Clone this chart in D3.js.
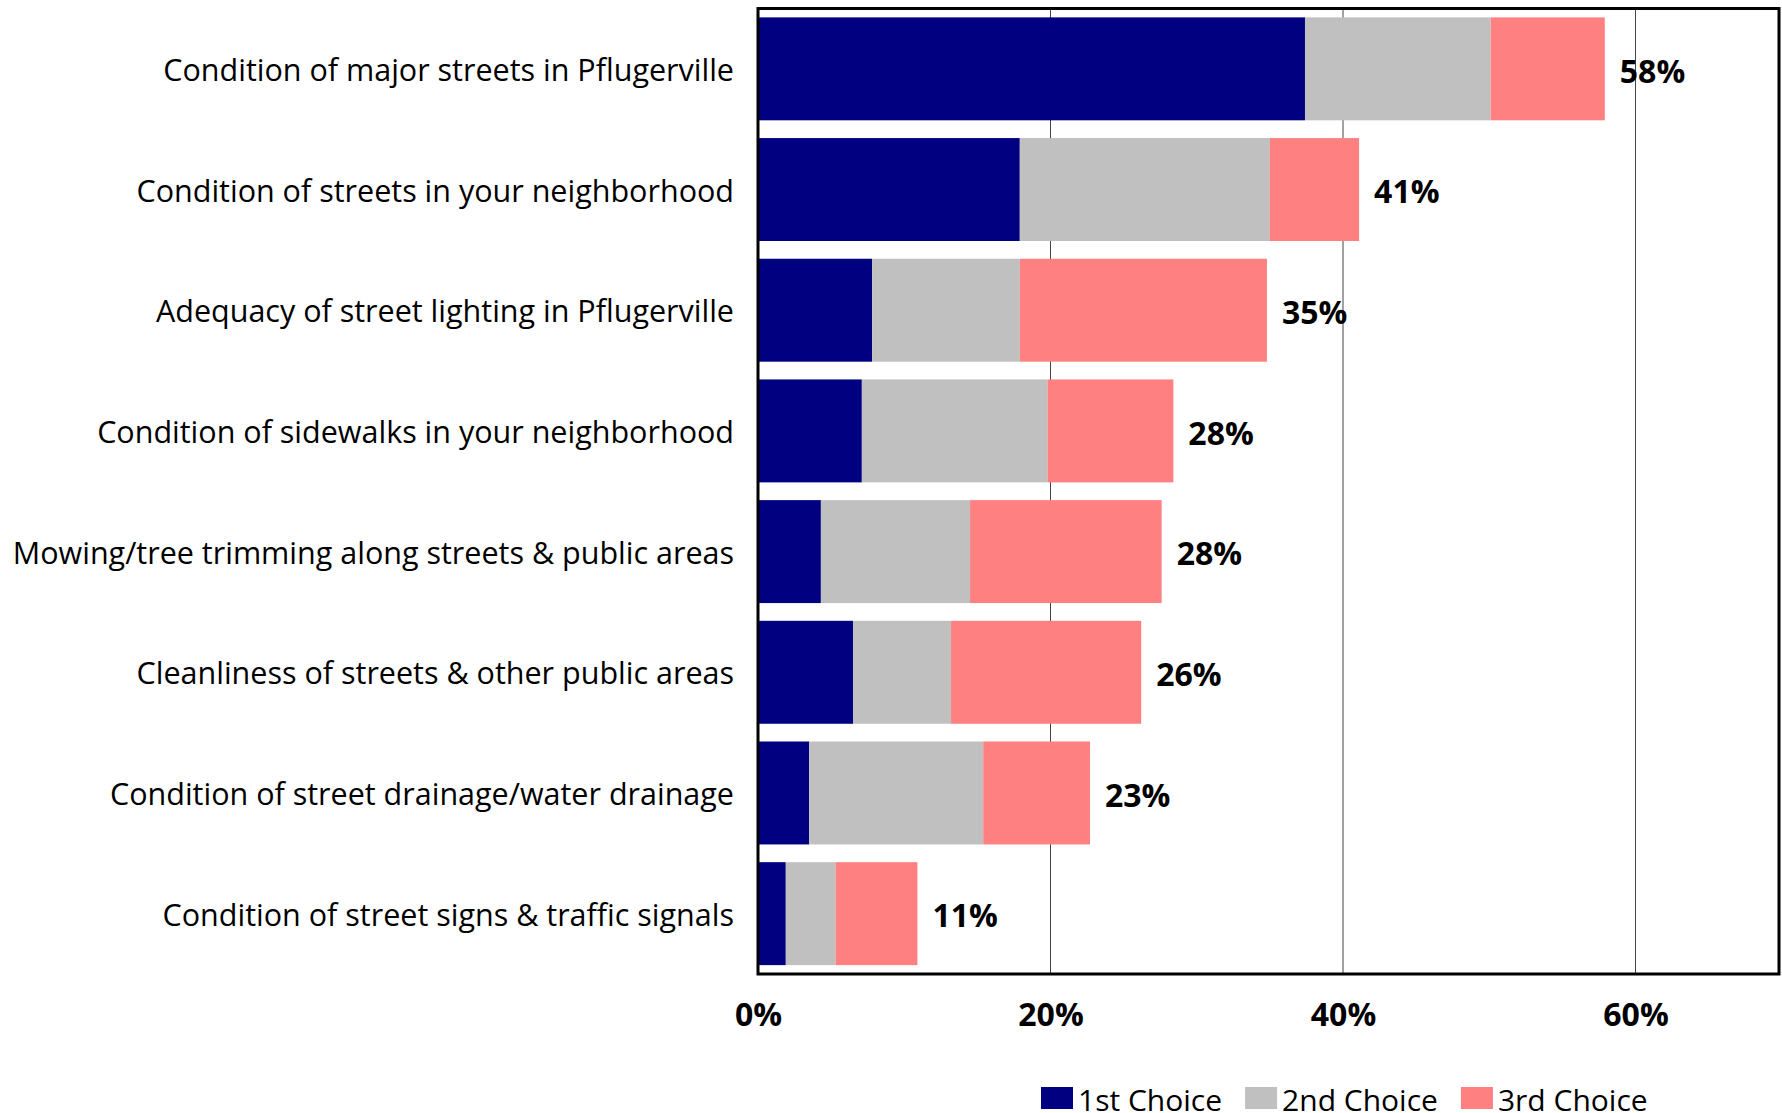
<!DOCTYPE html>
<html>
<head>
<meta charset="utf-8">
<script src="https://cdn.jsdelivr.net/npm/d3@7"></script>
<style>
  html, body { margin: 0; padding: 0; background: #ffffff; }
  svg { display: block; }
  text { font-family: "Open Sans", Lato, sans-serif; fill: #000; }
</style>
</head>
<body>
<svg id="chart" width="1782" height="1113"></svg>
<script>
// Survey items, top to bottom
const categories = [
  "Condition of major streets in Pflugerville",
  "Condition of streets in your neighborhood",
  "Adequacy of street lighting in Pflugerville",
  "Condition of sidewalks in your neighborhood",
  "Mowing/tree trimming along streets & public areas",
  "Cleanliness of streets & other public areas",
  "Condition of street drainage/water drainage",
  "Condition of street signs & traffic signals"
];

// Share of respondents (%) choosing each item as 1st, 2nd and 3rd priority
const firstChoice  = [37.4, 17.9,  7.8,  7.1,  4.3,  6.5,  3.5, 1.9];
const secondChoice = [12.7, 17.1, 10.1, 12.7, 10.2,  6.7, 11.9, 3.4];
const thirdChoice  = [ 7.8,  6.1, 16.9,  8.6, 13.1, 13.0,  7.3, 5.6];

const seriesNames = ["1st Choice", "2nd Choice", "3rd Choice"];
const seriesColors = ["#000080", "#C0C0C0", "#FF8080"];
const tickValues = [0, 20, 40, 60];

const svg = d3.select("#chart");

// Plot frame
const plot = { left: 758, right: 1779, top: 8.5, bottom: 974 };

const x = d3.scaleLinear().domain([0, 60]).range([plot.left, 1635.5]);
const y = d3.scaleBand()
  .domain(categories)
  .range([plot.top, plot.bottom])
  .paddingInner(0.147)
  .paddingOuter(0.0735);

const rows = categories.map((c, i) => ({
  category: c,
  "1st Choice": firstChoice[i],
  "2nd Choice": secondChoice[i],
  "3rd Choice": thirdChoice[i]
}));
const stacked = d3.stack().keys(seriesNames)(rows);

// Vertical gridlines
svg.append("g")
  .selectAll("line")
  .data(tickValues.filter(d => d > 0))
  .join("line")
  .attr("x1", d => x(d)).attr("x2", d => x(d))
  .attr("y1", plot.top).attr("y2", plot.bottom)
  .attr("stroke", "#444")
  .attr("stroke-width", 1);

// Stacked bars
svg.append("g")
  .selectAll("g")
  .data(stacked)
  .join("g")
  .attr("fill", (d, i) => seriesColors[i])
  .selectAll("rect")
  .data(d => d)
  .join("rect")
  .attr("x", d => x(d[0]))
  .attr("width", d => x(d[1]) - x(d[0]))
  .attr("y", d => y(d.data.category))
  .attr("height", y.bandwidth());

// Totals at the end of each bar
const totals = categories.map((c, i) => firstChoice[i] + secondChoice[i] + thirdChoice[i]);
svg.append("g")
  .selectAll("text")
  .data(categories)
  .join("text")
  .attr("x", (d, i) => x(totals[i]) + 15)
  .attr("y", d => y(d) + y.bandwidth() / 2)
  .attr("dy", "0.43em")
  .attr("font-size", 32)
  .attr("font-weight", "bold")
  .text((d, i) => Math.round(totals[i]) + "%");

// Category labels
svg.append("g")
  .selectAll("text")
  .data(categories)
  .join("text")
  .attr("x", plot.left - 24)
  .attr("y", d => y(d) + y.bandwidth() / 2)
  .attr("dy", "0.4em")
  .attr("text-anchor", "end")
  .attr("font-size", 30.5)
  .text(d => d);

// Frame around the plot area
svg.append("rect")
  .attr("x", plot.left)
  .attr("y", plot.top)
  .attr("width", plot.right - plot.left)
  .attr("height", plot.bottom - plot.top)
  .attr("fill", "none")
  .attr("stroke", "#000")
  .attr("stroke-width", 3);

// X axis tick labels
const xAxis = d3.axisBottom(x)
  .tickValues(tickValues)
  .tickSize(0)
  .tickPadding(0)
  .tickFormat(d => d + "%");
const axisG = svg.append("g")
  .attr("transform", `translate(0,${plot.bottom})`)
  .call(xAxis);
axisG.select(".domain").remove();
axisG.attr("font-family", null).attr("font-size", null);
axisG.selectAll("text")
  .attr("y", 52)
  .attr("dy", null)
  .attr("font-size", 32)
  .attr("font-weight", "bold")
  .attr("fill", "#000");

// Legend
const legend = svg.append("g");
let lx = 1041;
seriesNames.forEach((name, i) => {
  legend.append("rect")
    .attr("x", lx).attr("y", 1087)
    .attr("width", 32).attr("height", 22)
    .attr("fill", seriesColors[i]);
  const t = legend.append("text")
    .attr("x", lx + 37)
    .attr("y", 1111)
    .attr("font-size", 30)
    .text(name);
  lx += 37 + t.node().getComputedTextLength() + 23;
});
</script>
</body>
</html>
